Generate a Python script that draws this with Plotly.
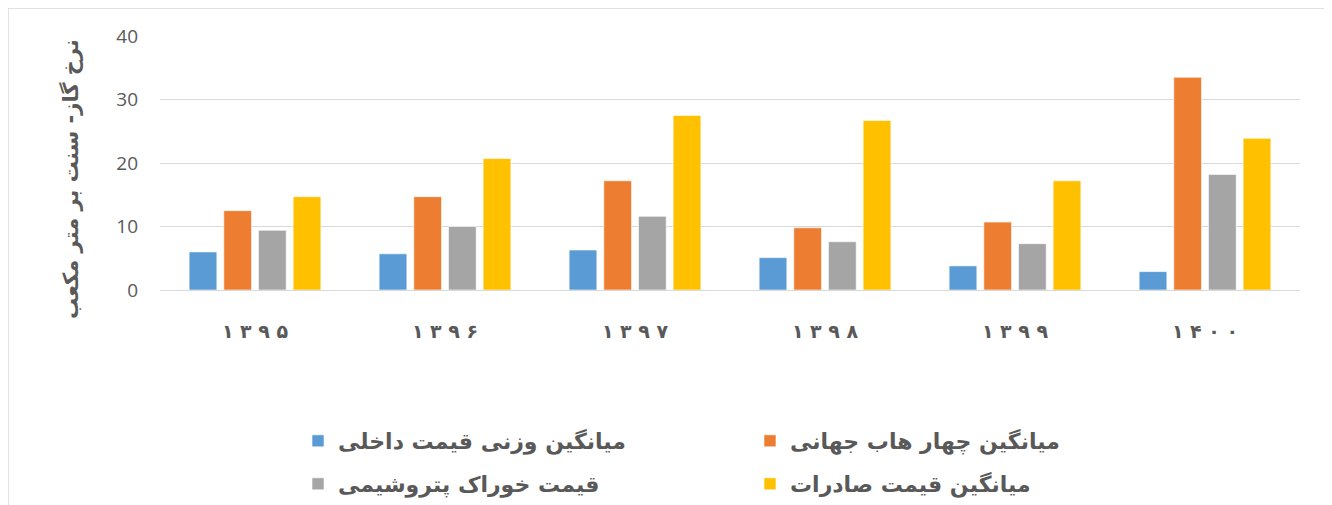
import plotly.graph_objects as go

years = ["۱ ۳ ۹ ۵", "۱ ۳ ۹ ۶", "۱ ۳ ۹ ۷", "۱ ۳ ۹ ۸", "۱ ۳ ۹ ۹", "۱ ۴ ۰ ۰"]
domestic = [6.0, 5.7, 6.3, 5.1, 3.8, 2.9]
hubs = [12.5, 14.7, 17.2, 9.8, 10.7, 33.5]
petchem = [9.4, 10.0, 11.6, 7.6, 7.3, 18.2]
export = [14.7, 20.7, 27.5, 26.7, 17.2, 23.9]

names = ["میانگین وزنی قیمت داخلی", "میانگین چهار هاب جهانی",
         "قیمت خوراک پتروشیمی", "میانگین قیمت صادرات"]
colors = ["#5B9BD5", "#ED7D31", "#A5A5A5", "#FFC000"]
legends = ["legend", "legend", "legend2", "legend2"]
series = [domestic, hubs, petchem, export]
y_title = "نرخ گاز- سنت بر متر مکعب"

PF = "DejaVu Sans"
fig = go.Figure()
for n, c, s, lg in zip(names, colors, series, legends):
    fig.add_trace(go.Bar(x=years, y=s, name=n, marker_color=c,
                         marker_line=dict(color="rgba(255,255,255,0.6)", width=1),
                         legend=lg))

OFF = 8  # page body margin
PAGE_W, PAGE_H = 1332, 505
W, H = PAGE_W - OFF, PAGE_H - OFF
# plot area in page pixels
PX0, PX1, PY0, PY1 = 160, 1300, 36, 290
L, R, T, B = PX0 - OFF, PAGE_W - PX1, PY0 - OFF, PAGE_H - PY1
pw, ph = PX1 - PX0, PY1 - PY0

def px_x(p):
    return (p - PX0) / pw

def px_y(p):
    return (PY1 - p) / ph

def cx(p):
    return (p - OFF) / W

def cy(p):
    return 1 - (p - OFF) / H

legfont = dict(family=PF, size=22, color="#595959", weight="bold")
common = dict(orientation="h", xref="container", yref="container", xanchor="left",
              yanchor="middle", font=legfont, entrywidth=407, entrywidthmode="pixels",
              bgcolor="rgba(0,0,0,0)")
fig.update_layout(
    width=W, height=H,
    margin=dict(l=L, r=R, t=T, b=B, autoexpand=False),
    paper_bgcolor="white", plot_bgcolor="white",
    barmode="group", bargap=0.27, bargroupgap=0.2,
    legend=dict(x=cx(298), y=cy(441), **common),
    legend2=dict(x=cx(298), y=cy(484), **common),
    xaxis=dict(tickfont=dict(family=PF, size=19, color="#595959", weight="bold"),
               showline=False, ticks="", ticklabelstandoff=28),
    yaxis=dict(range=[0, 40], dtick=10, gridcolor="#D9D9D9", gridwidth=1,
               zeroline=True, zerolinecolor="#D9D9D9", zerolinewidth=1,
               tickfont=dict(family="Open Sans", size=19, color="#595959"),
               ticklabelstandoff=21),
    annotations=[dict(text=y_title, textangle=-90, xref="paper", yref="paper",
                      x=px_x(70), y=px_y(179), xanchor="center", yanchor="middle",
                      showarrow=False,
                      font=dict(family=PF, size=21, color="#595959", weight="bold"))],
    shapes=[dict(type="rect", xref="paper", yref="paper",
                 x0=px_x(8), x1=px_x(1325), y0=px_y(520), y1=px_y(8),
                 line=dict(color="#D9D9D9", width=1.5), fillcolor="rgba(0,0,0,0)", layer="below")],
)

fig.write_html("out.html")
